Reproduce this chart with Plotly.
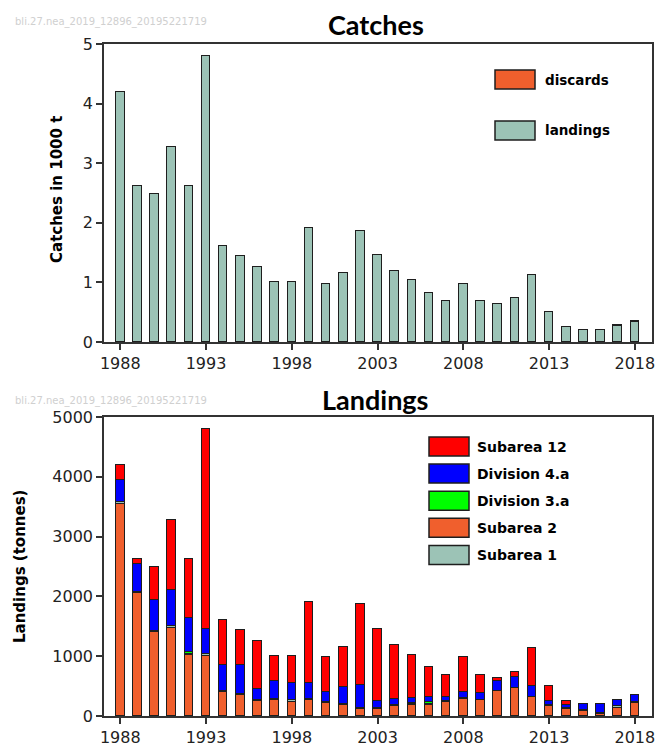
import plotly.graph_objects as go

W, H = 656, 746

years = list(range(1988, 2019))
tick_years = [1988, 1993, 1998, 2003, 2008, 2013, 2018]

# Top panel: catches in 1000 t
landings_kt = [4.20, 2.62, 2.49, 3.27, 2.62, 4.80, 1.61, 1.44, 1.26, 1.01, 1.01, 1.91, 0.98, 1.16,
               1.86, 1.46, 1.19, 1.04, 0.83, 0.68, 0.98, 0.68, 0.63, 0.73, 1.13, 0.50, 0.25, 0.20,
               0.20, 0.27, 0.34]
discards_kt = [0]*29 + [0.012, 0.018]

# Bottom panel: landings by area (tonnes)
subarea1 = [30, 20, 25, 25, 10, 30, 25, 25, 20, 20, 20, 25, 15, 20, 25, 25, 20, 10, 10, 20, 20, 15,
            10, 10, 15, 20, 15, 15, 15, 20, 20]
subarea2 = [3550, 2050, 1400, 1475, 1020, 1000, 395, 345, 245, 270, 240, 265, 220, 185, 110, 110, 170,
            185, 190, 235, 285, 260, 415, 465, 310, 160, 120, 90, 40, 140, 210]
division3a = [0, 0, 0, 0, 35, 0, 0, 0, 0, 0, 0, 0, 0, 0, 0, 0, 0, 30, 35, 0, 0, 0, 0, 0, 0, 0, 0, 0,
              0, 0, 0]
division4a = [370, 470, 510, 610, 575, 430, 435, 485, 190, 290, 290, 265, 165, 275, 390, 115, 90, 82,
              90, 70, 95, 105, 160, 170, 180, 75, 45, 95, 145, 115, 120]
subarea12 = [245, 80, 555, 1160, 980, 3340, 755, 580, 805, 425, 455, 1355, 580, 675, 1340, 1210, 905,
             720, 500, 355, 580, 300, 45, 85, 625, 245, 75, 0, 0, 0, 0]

GREY = "#9CC3B6"
ORANGE = "#F05F2D"
RED = "#FF0000"
BLUE = "#0000FF"
GREEN = "#00FF00"
EDGE = "#1e1e1e"

top_series = [("landings", landings_kt, GREY), ("discards", discards_kt, ORANGE)]
# legend order (top to bottom)
bot_legend = [("Subarea 12", subarea12, RED), ("Division 4.a", division4a, BLUE),
              ("Division 3.a", division3a, GREEN), ("Subarea 2", subarea2, ORANGE),
              ("Subarea 1", subarea1, GREY)]
# stacking order (bottom to top)
bot_stack = [bot_legend[3], bot_legend[4], bot_legend[2], bot_legend[1], bot_legend[0]]

fig = go.Figure()
for name, vals, col in top_series:
    fig.add_trace(go.Bar(x=years, y=vals, name=name, width=0.5,
                         marker=dict(color=col, line=dict(color=EDGE, width=1.5)),
                         xaxis="x", yaxis="y", showlegend=False))
for name, vals, col in bot_stack:
    fig.add_trace(go.Bar(x=years, y=vals, name=name, width=0.5,
                         marker=dict(color=col, line=dict(color=EDGE, width=1.5)),
                         xaxis="x2", yaxis="y2", showlegend=False))

def px(x):
    return x / W

def py(y):
    return 1 - y / H

xdom = [px(104), px(652)]
tickfont = dict(family="DejaVu Sans", size=16, color="#222")
axcommon = dict(showline=True, linecolor="#333", linewidth=1.5, mirror=True, ticks="outside",
                ticklen=6, tickwidth=1.5, tickcolor="#333", showgrid=False, zeroline=False,
                tickfont=tickfont, automargin=False)

fig.update_layout(
    width=W, height=H, margin=dict(l=0, r=0, t=0, b=0),
    plot_bgcolor="white", paper_bgcolor="white", barmode="stack", bargap=0,
    xaxis=dict(domain=xdom, anchor="y", range=[1987.05, 2019.0], tickvals=tick_years, **axcommon),
    yaxis=dict(domain=[py(342), py(44)], anchor="x", range=[0, 5], tickvals=[0, 1, 2, 3, 4, 5], **axcommon),
    xaxis2=dict(domain=xdom, anchor="y2", range=[1987.05, 2019.0], tickvals=tick_years, **axcommon),
    yaxis2=dict(domain=[py(716), py(417)], anchor="x2", range=[0, 5000],
                tickvals=[0, 1000, 2000, 3000, 4000, 5000], **axcommon),
)

ann = []
shapes = []
TF = "Lato"
LF = "DejaVu Sans"
ann.append(dict(text="<b>Catches</b>", x=px(376), y=py(24), xref="paper", yref="paper", showarrow=False,
                font=dict(family=TF, size=27, color="#000"), xanchor="center", yanchor="middle"))
ann.append(dict(text="<b>Landings</b>", x=px(376), y=py(399), xref="paper", yref="paper", showarrow=False,
                font=dict(family=TF, size=27, color="#000"), xanchor="center", yanchor="middle"))
for wy in (22, 401):
    ann.append(dict(text="bli.27.nea_2019_12896_20195221719", x=px(13), y=py(wy), xref="paper", yref="paper",
                    showarrow=False, font=dict(family="DejaVu Sans", size=10, color="#d0d0d0"),
                    xanchor="left", yanchor="middle"))
ann.append(dict(text="<b>Catches in 1000 t</b>", x=px(57), y=py(189), xref="paper", yref="paper",
                showarrow=False, textangle=-90, font=dict(family=LF, size=15, color="#000"),
                xanchor="center", yanchor="middle"))
ann.append(dict(text="<b>Landings (tonnes)</b>", x=px(20), y=py(567), xref="paper", yref="paper",
                showarrow=False, textangle=-90, font=dict(family=LF, size=15, color="#000"),
                xanchor="center", yanchor="middle"))

def legend_item(name, col, x0, y0, size, bw=40, bh=19, tx=8):
    shapes.append(dict(type="rect", xref="paper", yref="paper", x0=px(x0), x1=px(x0 + bw),
                       y0=py(y0 + bh), y1=py(y0), fillcolor=col, line=dict(color=EDGE, width=1.5)))
    ann.append(dict(text="<b>%s</b>" % name, x=px(x0 + bw + tx), y=py(y0 + bh / 2), xref="paper",
                    yref="paper", showarrow=False, font=dict(family=LF, size=size, color="#000"),
                    xanchor="left", yanchor="middle"))

top_leg = [top_series[1], top_series[0]]
for i, (name, vals, col) in enumerate(top_leg):
    legend_item(name, col, 495, 70 + i * 51, 13.5)

for i, (name, vals, col) in enumerate(bot_legend):
    legend_item(name, col, 429, 437 + i * 27.1, 14, tx=6)

fig.update_layout(annotations=ann, shapes=shapes)
fig.write_html("out.html", config={"displayModeBar": False},
               post_script="document.body.style.margin='0';document.body.style.overflow='hidden';")
